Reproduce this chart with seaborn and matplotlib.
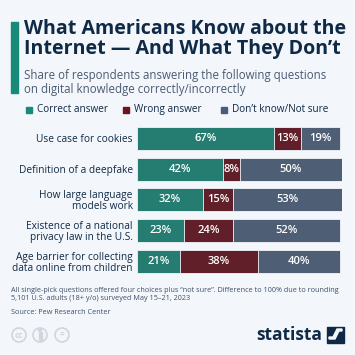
import numpy as np
import pandas as pd
import seaborn as sns
import matplotlib.pyplot as plt
from matplotlib.patches import Rectangle, Circle, Polygon

questions = ['Use case for cookies',
             'Definition of a deepfake',
             'How large language\nmodels work',
             'Existence of a national\nprivacy law in the U.S.',
             'Age barrier for collecting\ndata online from children']
correct = [67, 42, 32, 23, 21]
wrong = [13, 8, 15, 24, 38]
not_sure = [19, 50, 53, 52, 40]

series = ['Correct answer', 'Wrong answer', 'Don\u2019t know/Not sure']
colors = ['#178a7a', '#6c1521', '#475d7b']

bg = '#f3f6fa'
navy = '#0f2a46'

sns.set_theme(style='white')
plt.rcParams['font.family'] = ['Open Sans', 'DejaVu Sans']

df = pd.DataFrame({'question': questions, 'correct': correct,
                   'wrong': wrong, 'not_sure': not_sure})
df['c1'] = df['correct']
df['c2'] = df['correct'] + df['wrong']
df['c3'] = df['c2'] + df['not_sure']

fig = plt.figure(figsize=(3.55, 3.55), dpi=100)
fig.patch.set_facecolor(bg)

ax = fig.add_axes([137 / 355, 1 - 276.8 / 355, 205 / 355, 153.7 / 355])
ax.set_facecolor(bg)

# stacked by overlaying cumulative bars
for col, c in zip(['c3', 'c2', 'c1'], colors[::-1]):
    sns.barplot(data=df, x=col, y='question', orient='h', color=c,
                width=0.75, edgecolor=bg, linewidth=0.6, ax=ax)

for i, row in df.iterrows():
    starts = [0, row['c1'], row['c2']]
    vals = [row['correct'], row['wrong'], row['not_sure']]
    for s, v in zip(starts, vals):
        ax.text(s + v / 2, i, f'{v}%', ha='center', va='center',
                color='white', fontsize=8, fontweight='semibold')

ax.set_xlim(0, 100)
ax.set_ylim(4.5, -0.5)
ax.set_xlabel('')
ax.set_ylabel('')
ax.set_xticks([])
ax.tick_params(axis='y', length=0, pad=3, labelsize=7.3, labelcolor=navy)
for t in ax.get_yticklabels():
    t.set_ha('right')
    t.set_linespacing(1.0)
sns.despine(ax=ax, left=True, bottom=True)

# title block
fig.patches.append(Rectangle((11 / 355, 1 - 93 / 355), 7 / 355, 71 / 355,
                             transform=fig.transFigure, color='#178a7a'))
fig.text(24 / 355, 1 - 19 / 355, 'What Americans Know about the\nInternet \u2014 And What They Don\u2019t',
         ha='left', va='top', fontsize=14.1, fontweight='bold', color=navy,
         linespacing=0.98)
fig.text(24 / 355, 1 - 69 / 355, 'Share of respondents answering the following questions\non digital knowledge correctly/incorrectly',
         ha='left', va='top', fontsize=8.3, color='#4b5b72', linespacing=1.1)

# legend
lx = [26, 123, 221]
for x, lab, c in zip(lx, series, colors):
    fig.patches.append(Rectangle((x / 355, 1 - 112.5 / 355), 6 / 355, 6 / 355,
                                 transform=fig.transFigure, color=c))
    fig.text((x + 11) / 355, 1 - 109.5 / 355, lab, ha='left', va='center',
             fontsize=7.2, color=navy)

# footer
fig.text(11 / 355, 1 - 287 / 355,
         'All single-pick questions offered four choices plus \u201cnot sure\u201d. Difference to 100% due to rounding\n5,101 U.S. adults (18+ y/o) surveyed May 15\u201321, 2023',
         ha='left', va='top', fontsize=5.2, color='#3e4f66', linespacing=1.2)
fig.text(11 / 355, 1 - 309 / 355, 'Source: Pew Research Center',
         ha='left', va='top', fontsize=5.2, color='#3e4f66')

# cc icons
for x, s in zip([19, 40, 62], ['cc', '', '=']):
    fig.patches.append(Circle((x / 355, 1 - 335 / 355), 7 / 355,
                              transform=fig.transFigure, fill=False,
                              edgecolor='#d0d6de', linewidth=1.2))
    if s:
        fig.text(x / 355, 1 - 335 / 355, s, ha='center', va='center',
                 fontsize=6, fontweight='bold', color='#d0d6de')
fig.patches.append(Rectangle((38.5 / 355, 1 - 340 / 355), 3 / 355, 8 / 355,
                             transform=fig.transFigure, color='#d0d6de'))
fig.patches.append(Circle((40 / 355, 1 - 330 / 355), 1.5 / 355,
                          transform=fig.transFigure, color='#d0d6de'))

# statista logo
fig.text(256 / 355, 1 - 335 / 355, 'statista', ha='left', va='center',
         fontsize=12.5, fontweight='bold', color=navy)
fig.patches.append(Polygon([(327 / 355, 1 - 327 / 355), (344 / 355, 1 - 327 / 355),
                            (344 / 355, 1 - 343 / 355), (327 / 355, 1 - 343 / 355)],
                           closed=True, transform=fig.transFigure, color=navy))
fig.patches.append(Polygon([(329 / 355, 1 - 339 / 355), (335 / 355, 1 - 339 / 355),
                            (339 / 355, 1 - 331 / 355), (342 / 355, 1 - 331 / 355),
                            (342 / 355, 1 - 329 / 355), (337 / 355, 1 - 329 / 355),
                            (333 / 355, 1 - 337 / 355), (329 / 355, 1 - 337 / 355)],
                           closed=True, transform=fig.transFigure, color=bg))

fig.savefig('out.png', dpi=100, facecolor=bg)
